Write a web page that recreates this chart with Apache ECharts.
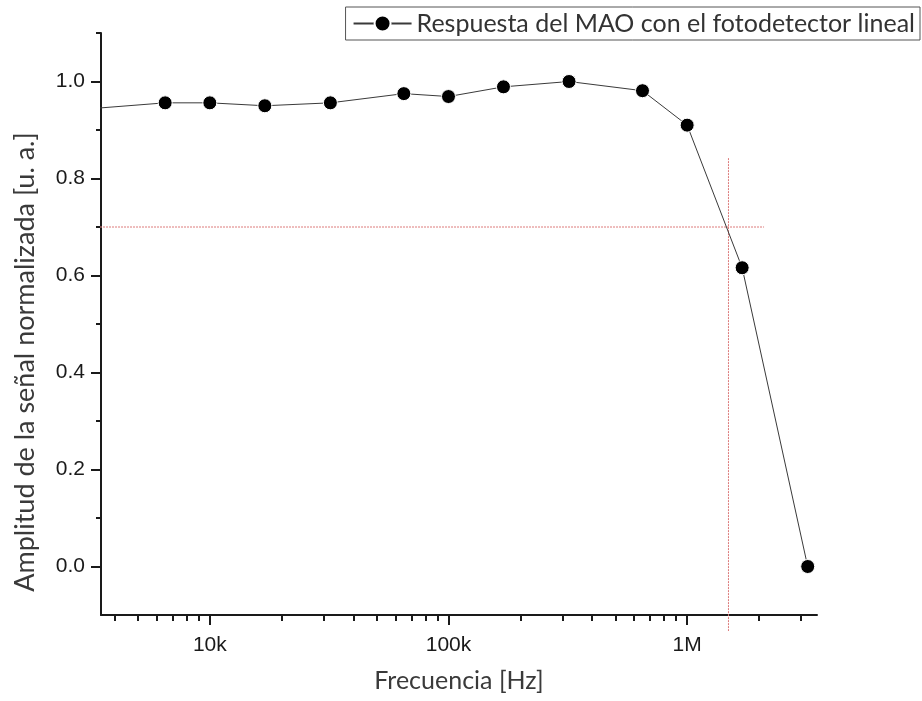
<!DOCTYPE html>
<html>
<head>
<meta charset="utf-8">
<script src="https://cdn.jsdelivr.net/npm/echarts@6/dist/echarts.min.js"></script>
<style>
  html, body { margin: 0; padding: 0; background: #fff; }
  #chart { width: 922px; height: 701px; }
</style>
</head>
<body>
<div id="chart"></div>
<script>
// Frequency response of the acousto-optic modulator measured with the linear photodetector
const frequencyHz = [3000, 6500, 10000, 17000, 32000, 65000, 100000, 170000, 320000, 650000, 1000000, 1700000, 3200000];
const amplitude   = [0.943, 0.956, 0.956, 0.950, 0.956, 0.975, 0.969, 0.989, 1.000, 0.981, 0.910, 0.616, 0.000];

// -3 dB guide lines (0.7 level and the cut-off frequency)
const levelLineX = [3000, 2100000];
const levelLineY = [0.7, 0.7];
const cutoffLineX = [1490000, 1490000];
const cutoffLineY = [0.842, -0.133];

// Axis ticks and labels
const xMajorTicks = [10000, 100000, 1000000];
const xMajorLabels = ['10k', '100k', '1M'];
const xMinorTicks = [4000, 5000, 6000, 7000, 8000, 9000,
                     20000, 30000, 40000, 50000, 60000, 70000, 80000, 90000,
                     200000, 300000, 400000, 500000, 600000, 700000, 800000, 900000,
                     2000000, 3000000];
const yMajorTicks = [0, 0.2, 0.4, 0.6, 0.8, 1.0];
const yMinorTicks = [0.1, 0.3, 0.5, 0.7, 0.9, 1.1];

const seriesName = 'Respuesta del MAO con el fotodetector lineal';

const zip = (xs, ys) => xs.map((x, i) => [x, ys[i]]);

const chart = echarts.init(document.getElementById('chart'), null, { renderer: 'canvas' });

const tickFont = { fontFamily: 'Liberation Sans', fontSize: 21, color: '#1a1a1a' };
const axisColor = '#1a1a1a';
const guideStyle = { color: '#dc7a7a', width: 1, type: [2, 1] };

const xRange = { type: 'log', logBase: 10, min: 3500, max: 3500000 };
const yRange = { type: 'value', min: -0.1, max: 1.1 };

chart.setOption({
  animation: false,
  backgroundColor: '#ffffff',
  grid: { left: 101, right: 105, top: 33, bottom: 86, containLabel: false },
  legend: {
    data: [seriesName],
    right: 2,
    top: 7,
    padding: [4, 5, 4, 7],
    borderColor: '#555',
    borderWidth: 1,
    borderRadius: 0,
    itemWidth: 58,
    itemHeight: 20,
    itemGap: 6,
    textStyle: { fontFamily: 'Lato', fontSize: 25, color: '#333' }
  },
  xAxis: [
    Object.assign({}, xRange, {
      position: 'bottom',
      name: 'Frecuencia [Hz]',
      nameLocation: 'middle',
      nameGap: 53,
      nameTextStyle: { fontFamily: 'Lato', fontSize: 25, color: '#3a3a3a' },
      axisLine: { show: true, onZero: false, lineStyle: { color: axisColor, width: 2 } },
      axisTick: { show: true, length: 10, customValues: xMajorTicks, lineStyle: { color: axisColor, width: 2 } },
      axisLabel: Object.assign({
        margin: 20,
        customValues: xMajorTicks,
        formatter: v => {
          const i = xMajorTicks.findIndex(t => Math.abs(t - v) / t < 1e-6);
          return i >= 0 ? xMajorLabels[i] : '';
        }
      }, tickFont),
      splitLine: { show: false },
      minorTick: { show: false }
    }),
    Object.assign({}, xRange, {
      position: 'bottom',
      axisLine: { show: false, onZero: false },
      axisTick: { show: true, length: 6, customValues: xMinorTicks, lineStyle: { color: axisColor, width: 2 } },
      axisLabel: { show: false },
      splitLine: { show: false }
    })
  ],
  yAxis: [
    Object.assign({}, yRange, {
      position: 'left',
      name: 'Amplitud de la señal normalizada [u. a.]',
      nameLocation: 'middle',
      nameGap: 62,
      // extra right padding moves the rotated title down along the axis
      nameTextStyle: { fontFamily: 'Lato', fontSize: 27, color: '#3a3a3a', padding: [0, 76, 0, 0] },
      axisLine: { show: true, onZero: false, lineStyle: { color: axisColor, width: 2 } },
      axisTick: { show: true, length: 10, customValues: yMajorTicks, lineStyle: { color: axisColor, width: 2 } },
      axisLabel: Object.assign({
        margin: 16,
        customValues: yMajorTicks,
        formatter: v => v.toFixed(1)
      }, tickFont),
      splitLine: { show: false }
    }),
    Object.assign({}, yRange, {
      position: 'left',
      axisLine: { show: false, onZero: false },
      axisTick: { show: true, length: 5, customValues: yMinorTicks, lineStyle: { color: axisColor, width: 2 } },
      axisLabel: { show: false },
      splitLine: { show: false }
    })
  ],
  series: [
    {
      name: 'nivel 0.7',
      type: 'line',
      data: zip(levelLineX, levelLineY),
      clip: false,
      silent: true,
      symbol: 'none',
      z: 1,
      lineStyle: guideStyle
    },
    {
      name: 'frecuencia de corte',
      type: 'line',
      data: zip(cutoffLineX, cutoffLineY),
      clip: false,
      silent: true,
      symbol: 'none',
      z: 1,
      lineStyle: guideStyle
    },
    {
      name: seriesName,
      type: 'line',
      data: zip(frequencyHz, amplitude),
      clip: true,
      z: 3,
      symbol: 'circle',
      symbolSize: 14,
      showAllSymbol: true,
      lineStyle: { color: '#3a3a3a', width: 1 },
      itemStyle: { color: '#000', borderColor: '#fff', borderWidth: 1 }
    }
  ]
});
</script>
</body>
</html>
